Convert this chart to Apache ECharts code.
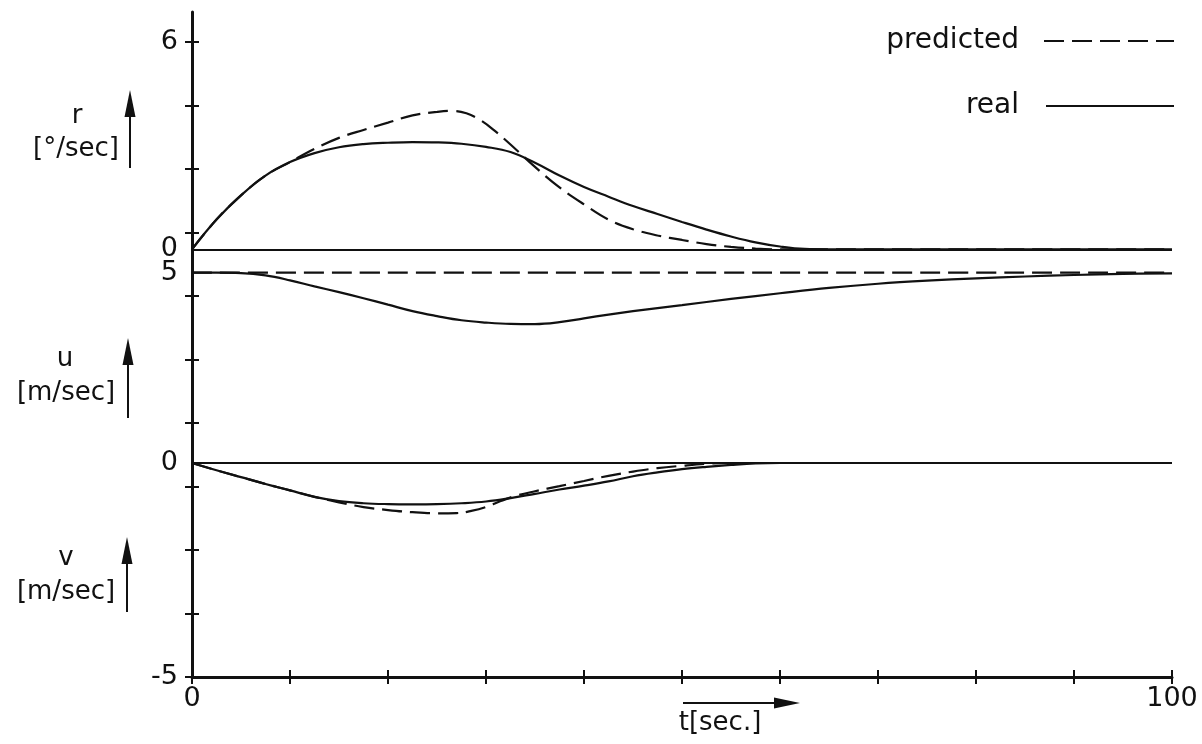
<!DOCTYPE html>
<html>
<head>
<meta charset="utf-8">
<script src="https://cdn.jsdelivr.net/npm/echarts@6/dist/echarts.min.js"></script>
<style>
  html, body { margin: 0; padding: 0; background: #fff; }
  #chart { width: 1202px; height: 744px; }
</style>
</head>
<body>
<div id="chart"></div>
<script>
// ---------------- data (time in sec) ----------------
const seriesNames = ['predicted', 'real'];
const xTickLabels = [0, 100];
const rTickLabels = [0, 6];
const uTickLabels = [5];
const vTickLabels = [0, -5];
const axisTickSteps = [0, 1, 2, 3, 4, 5, 6, 7, 8, 9, 10];

// yaw rate r [°/sec]
const rReal = [[0,0],[2.5,0.86],[5,1.56],[7.5,2.13],[10,2.52],[12.5,2.78],[15,2.95],[17.5,3.04],[20,3.08],[22.5,3.10],[25,3.09],[27.5,3.05],[30,2.96],[32.5,2.81],[35,2.50],[37.5,2.13],[40,1.80],[42.5,1.52],[45,1.25],[47.5,1.02],[50,0.79],[52.5,0.57],[55,0.37],[57.5,0.20],[60,0.08],[62.5,0.01],[65,0],[100,0]];
const rPred = [[0,0],[2.5,0.86],[5,1.56],[7.5,2.13],[10,2.52],[12.5,2.90],[15,3.22],[17.5,3.45],[20,3.66],[22.5,3.87],[25,3.97],[26.5,4.00],[28,3.93],[29.5,3.72],[31,3.40],[32.5,3.03],[35,2.38],[37.5,1.79],[40,1.30],[42.5,0.86],[45,0.58],[47.5,0.40],[50,0.27],[52.5,0.15],[55,0.07],[57.5,0.02],[60,0],[100,0]];

// surge velocity u [m/sec]
const uReal = [[0,5],[2.5,5],[5,4.99],[7.5,4.93],[10,4.80],[12.5,4.64],[15,4.49],[17.5,4.33],[20,4.16],[22.5,3.99],[25,3.86],[27.5,3.75],[30,3.69],[32.5,3.655],[35,3.65],[37.5,3.70],[40,3.80],[42.5,3.90],[45,3.99],[47.5,4.07],[50,4.15],[55,4.31],[60,4.46],[65,4.60],[70,4.71],[75,4.79],[80,4.85],[85,4.90],[90,4.94],[95,4.97],[100,4.98]];
const uPred = [[0,5],[100,5]];

// sway velocity v [m/sec]
const vReal = [[0,0],[2.5,-0.17],[5,-0.33],[7.5,-0.49],[10,-0.64],[12.5,-0.79],[15,-0.89],[17.5,-0.94],[20,-0.96],[22.5,-0.965],[25,-0.96],[27.5,-0.94],[30,-0.90],[32.5,-0.82],[35,-0.72],[37.5,-0.62],[40,-0.53],[42.5,-0.43],[45,-0.31],[47.5,-0.22],[50,-0.145],[52.5,-0.09],[55,-0.045],[57.5,-0.01],[60,0],[100,0]];
const vPred = [[0,0],[2.5,-0.17],[5,-0.33],[7.5,-0.49],[10,-0.64],[12.5,-0.79],[15,-0.92],[17.5,-1.03],[20,-1.10],[22.5,-1.15],[25,-1.175],[27,-1.17],[28.5,-1.12],[30,-1.03],[31.5,-0.89],[33,-0.77],[35,-0.66],[37.5,-0.54],[40,-0.42],[42.5,-0.30],[45,-0.20],[47.5,-0.12],[50,-0.065],[52.5,-0.02],[55,0],[100,0]];

// ---------------- layout ----------------
const FONT = "'DejaVu Sans', 'Open Sans', sans-serif";
const INK = '#111';
const PLOT_LEFT = 192, PLOT_RIGHT_X = 1172, PLOT_TOP = 12, PLOT_BOTTOM = 677;
const TICK_SPACING = 63.5;

// value range of an axis spanning the whole plot height, given two anchor rows
function axisRange(v1, y1, v2, y2) {
  const k = (v1 - v2) / (y2 - y1);
  const at = y => v1 + (y1 - y) * k;
  return { min: at(PLOT_BOTTOM), max: at(PLOT_TOP) };
}
const rRange = axisRange(6, 41.7, 0, 249.3);
const uRange = axisRange(5, 272.7, 0, 463);
const vRange = axisRange(0, 463, -5, 677);
const masterRange = { min: 0, max: (PLOT_BOTTOM - PLOT_TOP) / TICK_SPACING };

const chart = echarts.init(document.getElementById('chart'), null, { renderer: 'canvas' });

const labelStyle = { fontFamily: FONT, fontSize: 27, color: INK };
function panelAxis(range, labels) {
  return {
    type: 'value', position: 'left', offset: 0,
    min: range.min, max: range.max,
    axisLine: { show: false }, axisTick: { show: false }, splitLine: { show: false },
    axisLabel: Object.assign({ show: true, customValues: labels, margin: 14, formatter: v => String(v) }, labelStyle)
  };
}

const dashed = [20, 8];
function lineSeries(name, data, yIdx, dash, extra) {
  return Object.assign({
    name, type: 'line', data, xAxisIndex: 0, yAxisIndex: yIdx,
    symbol: 'none', showSymbol: false, smooth: 0.4,
    lineStyle: { color: INK, width: 2.2, type: dash ? dashed : 'solid' },
    itemStyle: { color: INK },
    silent: true, clip: false
  }, extra || {});
}
const zeroLine = {
  silent: true, symbol: ['none', 'none'], label: { show: false },
  lineStyle: { color: INK, width: 2, type: 'solid' },
  data: [{ yAxis: 0 }]
};

function arrow(x, yTip, yTail) {
  return [
    { type: 'line', shape: { x1: x, y1: yTail, x2: x, y2: yTip + 10 }, style: { stroke: INK, lineWidth: 2 } },
    { type: 'polygon', shape: { points: [[x - 5.5, yTip + 27], [x, yTip], [x + 5.5, yTip + 27]] }, style: { fill: INK } }
  ];
}
function title(text, x, y) {
  return { type: 'text', x, y, style: { text, fill: INK, font: '26px ' + FONT, textAlign: 'center', textVerticalAlign: 'middle' } };
}

const legendBase = {
  right: 27, align: 'right', itemHeight: 14, padding: 0, selectedMode: false,
  itemStyle: { opacity: 0, borderWidth: 0 }
};

const option = {
  animation: false,
  backgroundColor: '#fff',
  grid: { left: PLOT_LEFT, right: 1202 - PLOT_RIGHT_X, top: PLOT_TOP, bottom: 744 - PLOT_BOTTOM, containLabel: false, outerBoundsMode: 'none' },
  legend: [
    Object.assign({ data: [seriesNames[0]], top: 27, itemWidth: 130,
      textStyle: { fontFamily: FONT, fontSize: 28, color: INK, padding: [0, 20, 0, 0] } }, legendBase),
    Object.assign({ data: [seriesNames[1]], top: 92, itemWidth: 128,
      textStyle: { fontFamily: FONT, fontSize: 28, color: INK, padding: [0, 22, 0, 0] } }, legendBase)
  ],
  xAxis: [
    { type: 'value', min: 0, max: 100, interval: 10, position: 'bottom',
      axisLine: { show: true, lineStyle: { color: INK, width: 3 } },
      axisTick: { show: true, length: 7, lineStyle: { color: INK, width: 2 } },
      splitLine: { show: false },
      axisLabel: Object.assign({ customValues: xTickLabels, margin: 8 }, labelStyle) },
    { type: 'value', min: 0, max: 100, interval: 10, position: 'bottom', offset: 0,
      axisLine: { show: false },
      axisTick: { show: true, inside: true, length: 7, lineStyle: { color: INK, width: 2 } },
      splitLine: { show: false }, axisLabel: { show: false } }
  ],
  yAxis: [
    { type: 'value', position: 'left', offset: 0, min: masterRange.min, max: masterRange.max,
      axisLine: { show: true, lineStyle: { color: INK, width: 3 } },
      axisTick: { show: true, customValues: axisTickSteps, length: 7, lineStyle: { color: INK, width: 2 } },
      splitLine: { show: false }, axisLabel: { show: false } },
    { type: 'value', position: 'left', offset: 0, min: masterRange.min, max: masterRange.max,
      axisLine: { show: false },
      axisTick: { show: true, inside: true, customValues: axisTickSteps, length: 7, lineStyle: { color: INK, width: 2 } },
      splitLine: { show: false }, axisLabel: { show: false } },
    panelAxis(rRange, rTickLabels),
    panelAxis(uRange, uTickLabels),
    panelAxis(vRange, vTickLabels)
  ],
  series: [
    lineSeries(seriesNames[0], rPred, 2, true),
    lineSeries(seriesNames[1], rReal, 2, false, { markLine: zeroLine }),
    lineSeries(seriesNames[0], uPred, 3, true),
    lineSeries(seriesNames[1], uReal, 3, false),
    lineSeries(seriesNames[0], vPred, 4, true),
    lineSeries(seriesNames[1], vReal, 4, false, { markLine: zeroLine })
  ],
  graphic: [
    title('r', 77, 116), title('[°/sec]', 76, 149),
    ...arrow(130, 90, 168),
    title('u', 65, 359), title('[m/sec]', 66, 393),
    ...arrow(128, 338, 418),
    title('v', 66, 558), title('[m/sec]', 66, 592),
    ...arrow(127, 537, 612),
    title('t[sec.]', 720, 723),
    { type: 'line', shape: { x1: 683, y1: 703, x2: 785, y2: 703 }, style: { stroke: INK, lineWidth: 2 } },
    { type: 'polygon', shape: { points: [[774, 697.5], [800, 703], [774, 708.5]] }, style: { fill: INK } }
  ]
};
chart.setOption(option);
</script>
</body>
</html>
